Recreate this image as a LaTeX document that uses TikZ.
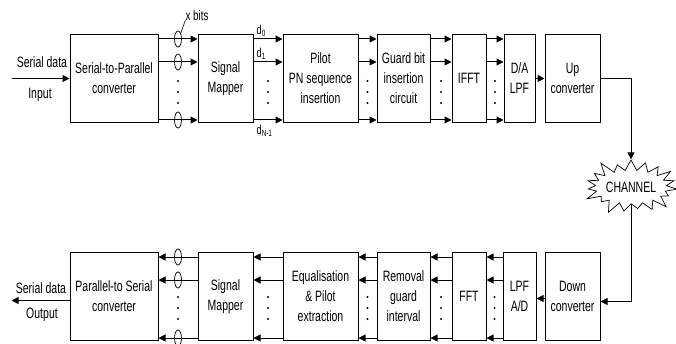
\documentclass[tikz,border=0pt]{standalone}
\usepackage{fontspec}
\setmainfont{Liberation Sans}[FakeStretch=0.7]
\usetikzlibrary{positioning, calc, shapes.geometric, shapes.symbols, arrows.meta}

\begin{document}
\begin{tikzpicture}[
    x=1pt, y=1pt,
    node distance=129pt,
    box/.style={rectangle, draw, line width=1pt, minimum height=88pt, inner sep=1pt, align=center, font=\fontsize{15}{20}\selectfont},
    arrow/.style={-{Triangle[length=7pt,width=7pt]}, line width=1pt},
    lbl/.style={font=\fontsize{15}{20}\selectfont, inner sep=0pt},
    dlbl/.style={font=\fontsize{13}{15}\selectfont, inner sep=0pt},
    bit/.style={ellipse, draw, line width=0.7pt, minimum width=7pt, minimum height=16pt, inner sep=0pt}
]
    \useasboundingbox (0,0) rectangle (676,343);
    % transmitter
    \node[box, minimum width=88pt] (sp) at (114,264.5) {Serial-to-Parallel\\converter};
    \node[box, minimum width=55pt, right=39pt of sp] (smt) {Signal\\Mapper};
    \node[box, minimum width=75pt, right=29pt of smt] (pn) {Pilot\\PN sequence\\insertion};
    \node[box, minimum width=53pt, right=18pt of pn] (gb) {Guard bit\\insertion\\circuit};
    \node[box, minimum width=34pt, right=21pt of gb] (ifft) {IFFT};
    \node[box, minimum width=31pt, right=17pt of ifft] (da) {D/A\\LPF};
    \node[box, minimum width=55pt, right=9pt of da] (up) {Up\\converter};
    % receiver
    \node[box, minimum width=88pt, below=of sp] (ps) {Parallel-to Serial\\converter};
    \node[box, minimum width=55pt, below=of smt] (smr) {Signal\\Mapper};
    \node[box, minimum width=75pt, below=of pn] (eq) {Equalisation\\\& Pilot\\extraction};
    \node[box, minimum width=53pt, below=of gb] (rg) {Removal\\guard\\interval};
    \node[box, minimum width=34pt, below=of ifft] (fft) {FFT};
    \node[box, minimum width=33pt, below=of da] (ad) {LPF\\A/D};
    \node[box, minimum width=55pt, below=of up] (down) {Down\\converter};
    % channel
    \node[starburst, draw, line width=0.7pt, starburst points=19, minimum width=78pt, minimum height=62pt, inner sep=0pt, lbl] (ch) at (631,156) {CHANNEL};

    % parallel lines
    \foreach \a/\b in {sp/smt, smt/pn, pn/gb, gb/ifft, ifft/da} {
        \foreach \dy in {5,28,86}
            \draw[arrow] ($(\a.north east)+(0,-\dy)$) -- ($(\b.north west)+(0,-\dy)$);
        \foreach \dy in {47,58,69}
            \fill ($(\a.north east)!0.5!(\b.north west)+(0,-\dy)$) circle (1.1pt);
    }
    \foreach \a/\b in {smr/ps, eq/smr, rg/eq, fft/rg, ad/fft} {
        \foreach \dy in {5,28,86}
            \draw[arrow] ($(\a.north west)+(0,-\dy)$) -- ($(\b.north east)+(0,-\dy)$);
        \foreach \dy in {45,56,67}
            \fill ($(\a.north west)!0.5!(\b.north east)+(0,-\dy)$) circle (1.1pt);
    }
    \foreach \dy/\i in {5/1,28/2,86/3} {
        \node[bit] (tb\i) at ($(sp.north east)!0.5!(smt.north west)+(0,-\dy)$) {};
        \node[bit] (rb\i) at ($(ps.north east)!0.5!(smr.north west)+(0,-\dy)$) {};
    }

    % labels
    \node[dlbl, font=\fontsize{14}{16}\selectfont] (xbits) at (197,328) {x bits};
    \draw[line width=0.6pt] (xbits.south west) -- (tb1.north east);
    \node[dlbl, anchor=south west] (d1) at ($(smt.north east)+(3,-3)$) {d\textsubscript{0}};
    \node[dlbl, anchor=south west] (d2) at ($(smt.north east)+(3,-26)$) {d\textsubscript{1}};
    \node[dlbl, anchor=north west] (d3) at ($(smt.south east)+(3,-2)$) {d\textsubscript{N-1}};

    % input / output
    \coordinate (in) at ($(sp.west)+(-58,0)$);
    \draw[arrow] (in) -- (sp.west);
    \node[lbl] (inlbl1) at (42,281) {Serial data};
    \node[lbl] (inlbl2) at (40,248) {Input};
    \coordinate (out) at ($(ps.west)+(-58,-4)$);
    \draw[arrow] ($(ps.west)+(0,-4)$) -- (out);
    \node[lbl] (outlbl1) at (41,55) {Serial data};
    \node[lbl] (outlbl2) at (42,28) {Output};

    % up/down conversion and channel
    \draw[arrow] (da.east) -- (up.west);
    \draw[arrow] ($(down.west)+(0,-2)$) -- ($(ad.east)+(0,-2)$);
    \draw[arrow] (up.east) -| (ch.north);
    \draw[arrow] (ch.south) |- ($(down.east)+(0,-5)$);
\end{tikzpicture}
\end{document}
